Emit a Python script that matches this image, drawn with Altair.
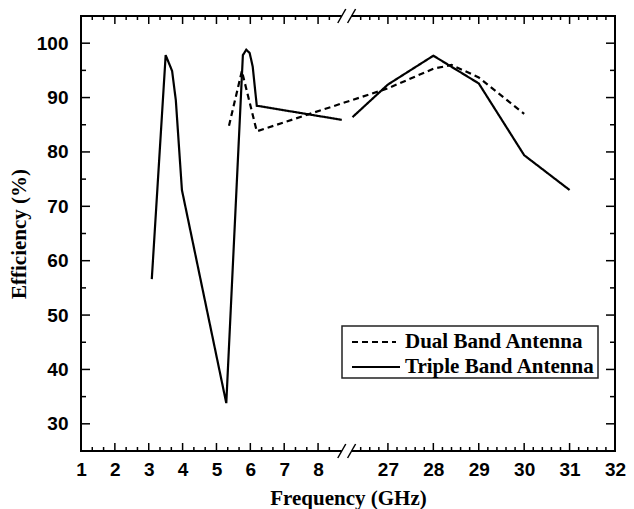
import altair as alt
import pandas as pd

# ---------------- data ----------------
series_names = ["Dual Band Antenna", "Triple Band Antenna"]

triple_f1 = [3.09, 3.50, 3.69, 3.80, 3.98, 5.29, 5.78, 5.88, 5.98, 6.07, 6.19, 8.70]
triple_e1 = [56.6, 97.8, 94.9, 89.5, 73.0, 33.8, 97.8, 98.8, 98.2, 95.7, 88.5, 85.9]
triple_f2 = [26.22, 27.0, 28.0, 29.0, 30.0, 31.0]
triple_e2 = [86.4, 92.4, 97.7, 92.6, 79.4, 73.0]
dual_f = [5.37, 5.75, 6.19, 27.0, 28.0, 28.4, 29.0, 30.0]
dual_e = [84.8, 94.9, 83.8, 91.7, 95.3, 96.0, 93.7, 87.0]

x_major = [1, 2, 3, 4, 5, 6, 7, 8, 27, 28, 29, 30, 31, 32]
x_minor = [1.333, 1.667, 2.333, 2.667, 3.333, 3.667, 4.333, 4.667, 5.333, 5.667,
           6.333, 6.667, 7.333, 7.667, 8.333,
           26.4, 26.6, 26.8, 27.2, 27.4, 27.6, 27.8, 28.2, 28.4, 28.6, 28.8,
           29.2, 29.4, 29.6, 29.8, 30.2, 30.4, 30.6, 30.8, 31.2, 31.4, 31.6, 31.8]
y_major = [30, 40, 50, 60, 70, 80, 90, 100]
y_minor = [35, 45, 55, 65, 75, 85, 95]
break_edges = [8.7, 26.2]

# ---------------- broken axis mapping ----------------
BREAK_LO, BREAK_HI = 8.7, 26.2
GAP = 0.29
RATIO = 1.341
X_MIN, X_MAX = 1.0, 32.0


def pos(f):
    return f if f <= BREAK_LO else BREAK_LO + GAP + (f - BREAK_HI) * RATIO


POS_EXPR = (f"datum.f <= {BREAK_LO} ? datum.f : "
            f"{BREAK_LO + GAP} + (datum.f - {BREAK_HI}) * {RATIO}")
SPLIT = BREAK_LO + GAP / 2
LABEL_EXPR = (f"datum.value < {SPLIT} ? format(datum.value, '.0f') : "
              f"format({BREAK_HI} + (datum.value - {BREAK_LO + GAP}) / {RATIO}, '.0f')")

W, H = 534, 435

rows = []
for f, e in zip(triple_f1, triple_e1):
    rows.append({"f": f, "e": e, "series": series_names[1], "seg": "t1"})
for f, e in zip(triple_f2, triple_e2):
    rows.append({"f": f, "e": e, "series": series_names[1], "seg": "t2"})
for f, e in zip(dual_f, dual_e):
    rows.append({"f": f, "e": e, "series": series_names[0], "seg": "d"})
df = pd.DataFrame(rows)

xs = alt.Scale(domain=[X_MIN, pos(X_MAX)], nice=False, zero=False)
ys = alt.Scale(domain=[25, 105], nice=False, zero=False)

x_axis = alt.Axis(values=[pos(v) for v in x_major], labelExpr=LABEL_EXPR,
                  domain=False, ticks=False, grid=False, labelFlush=False,
                  labelOverlap=False, labelPadding=9, titlePadding=8)
y_axis = alt.Axis(values=y_major, domain=False, ticks=False, grid=False,
                  labelOverlap=False, labelPadding=13, titlePadding=7)


def X(field="pos"):
    return alt.X(f"{field}:Q", scale=xs, axis=x_axis, title="Frequency (GHz)")


def Y(field):
    return alt.Y(f"{field}:Q", scale=ys, axis=y_axis, title="Efficiency (%)")


lines = alt.Chart(df).transform_calculate(pos=POS_EXPR).mark_line(
    color="black", strokeWidth=2.2
).encode(
    x=X(), y=Y("e"),
    strokeDash=alt.StrokeDash("series:N", scale=alt.Scale(domain=series_names,
                              range=[[6, 4], [1, 0]]), legend=None),
    detail="seg:N",
)


def xticks(vals, length, top):
    c = alt.Chart(pd.DataFrame({"f": vals})).transform_calculate(pos=POS_EXPR).mark_rule(
        color="black", strokeWidth=1.5)
    if top:
        return c.encode(x=X(), y=alt.value(0), y2=alt.value(length))
    return c.encode(x=X(), y=alt.value(H), y2=alt.value(H - length))


def yticks(vals, length, right):
    c = alt.Chart(pd.DataFrame({"v": vals})).mark_rule(color="black", strokeWidth=1.5)
    if right:
        return c.encode(y=Y("v"), x=alt.value(W), x2=alt.value(W - length))
    return c.encode(y=Y("v"), x=alt.value(0), x2=alt.value(length))


tick_layers = [
    xticks(x_major, 8, False), xticks(x_minor, 4, False),
    xticks(x_major, 8, True), xticks(x_minor, 4, True),
    yticks(y_major, 9, False), yticks(y_minor, 5, False),
    yticks(y_major, 9, True), yticks(y_minor, 5, True),
]

brk = pd.DataFrame({"f": [break_edges[0]], "g": [break_edges[1]]})
gap_base = alt.Chart(brk).transform_calculate(
    pos=POS_EXPR,
    pos2=f"{BREAK_LO + GAP} + (datum.g - {BREAK_HI}) * {RATIO}",
).mark_rect(color="white")
gap_top = gap_base.encode(x=X(), x2="pos2:Q", y=alt.value(-3), y2=alt.value(3))
gap_bot = gap_base.encode(x=X(), x2="pos2:Q", y=alt.value(H - 3), y2=alt.value(H + 3))

slash_base = alt.Chart(pd.DataFrame({"f": break_edges})).transform_calculate(pos=POS_EXPR)
slash_top = slash_base.mark_rule(color="black", strokeWidth=1.5, xOffset=-4, x2Offset=4).encode(
    x=X(), x2="pos:Q", y=alt.value(7), y2=alt.value(-7))
slash_bot = slash_base.mark_rule(color="black", strokeWidth=1.5, xOffset=-4, x2Offset=4).encode(
    x=X(), x2="pos:Q", y=alt.value(H + 7), y2=alt.value(H - 7))

# ---------------- legend ----------------
one = pd.DataFrame({"a": [0]})
leg_box = alt.Chart(one).mark_rect(fill="white", stroke="#222", strokeWidth=1.5).encode(
    x=alt.value(261), x2=alt.value(517), y=alt.value(310), y2=alt.value(362))
leg_dash = alt.Chart(one).mark_rule(color="black", strokeWidth=2, strokeDash=[6, 4]).encode(
    x=alt.value(271), x2=alt.value(315), y=alt.value(326))
leg_solid = alt.Chart(one).mark_rule(color="black", strokeWidth=2).encode(
    x=alt.value(271), x2=alt.value(319), y=alt.value(351))
leg_texts = []
for i, name in enumerate(series_names):
    leg_texts.append(
        alt.Chart(pd.DataFrame({"t": [name]})).mark_text(
            font="Liberation Serif", fontWeight="bold", fontSize=21, align="left",
            baseline="alphabetic", color="black"
        ).encode(text="t:N", x=alt.value(324), y=alt.value(332 + 25 * i))
    )

chart = alt.layer(
    lines, *tick_layers, gap_top, gap_bot, slash_top, slash_bot,
    leg_box, leg_dash, leg_solid, *leg_texts
).properties(
    width=W, height=H,
    autosize=alt.AutoSizeParams(type="none"),
    padding={"left": 73, "top": 8, "right": 11, "bottom": 58},
).configure_view(
    stroke="black", strokeWidth=2
).configure_axis(
    labelFont="Liberation Sans", labelFontWeight="bold", labelFontSize=19,
    labelColor="black", titleFont="Liberation Serif", titleFontWeight="bold",
    titleFontSize=21, titleColor="black"
)

chart.save("out.html", embed_options={"renderer": "svg", "actions": False})
